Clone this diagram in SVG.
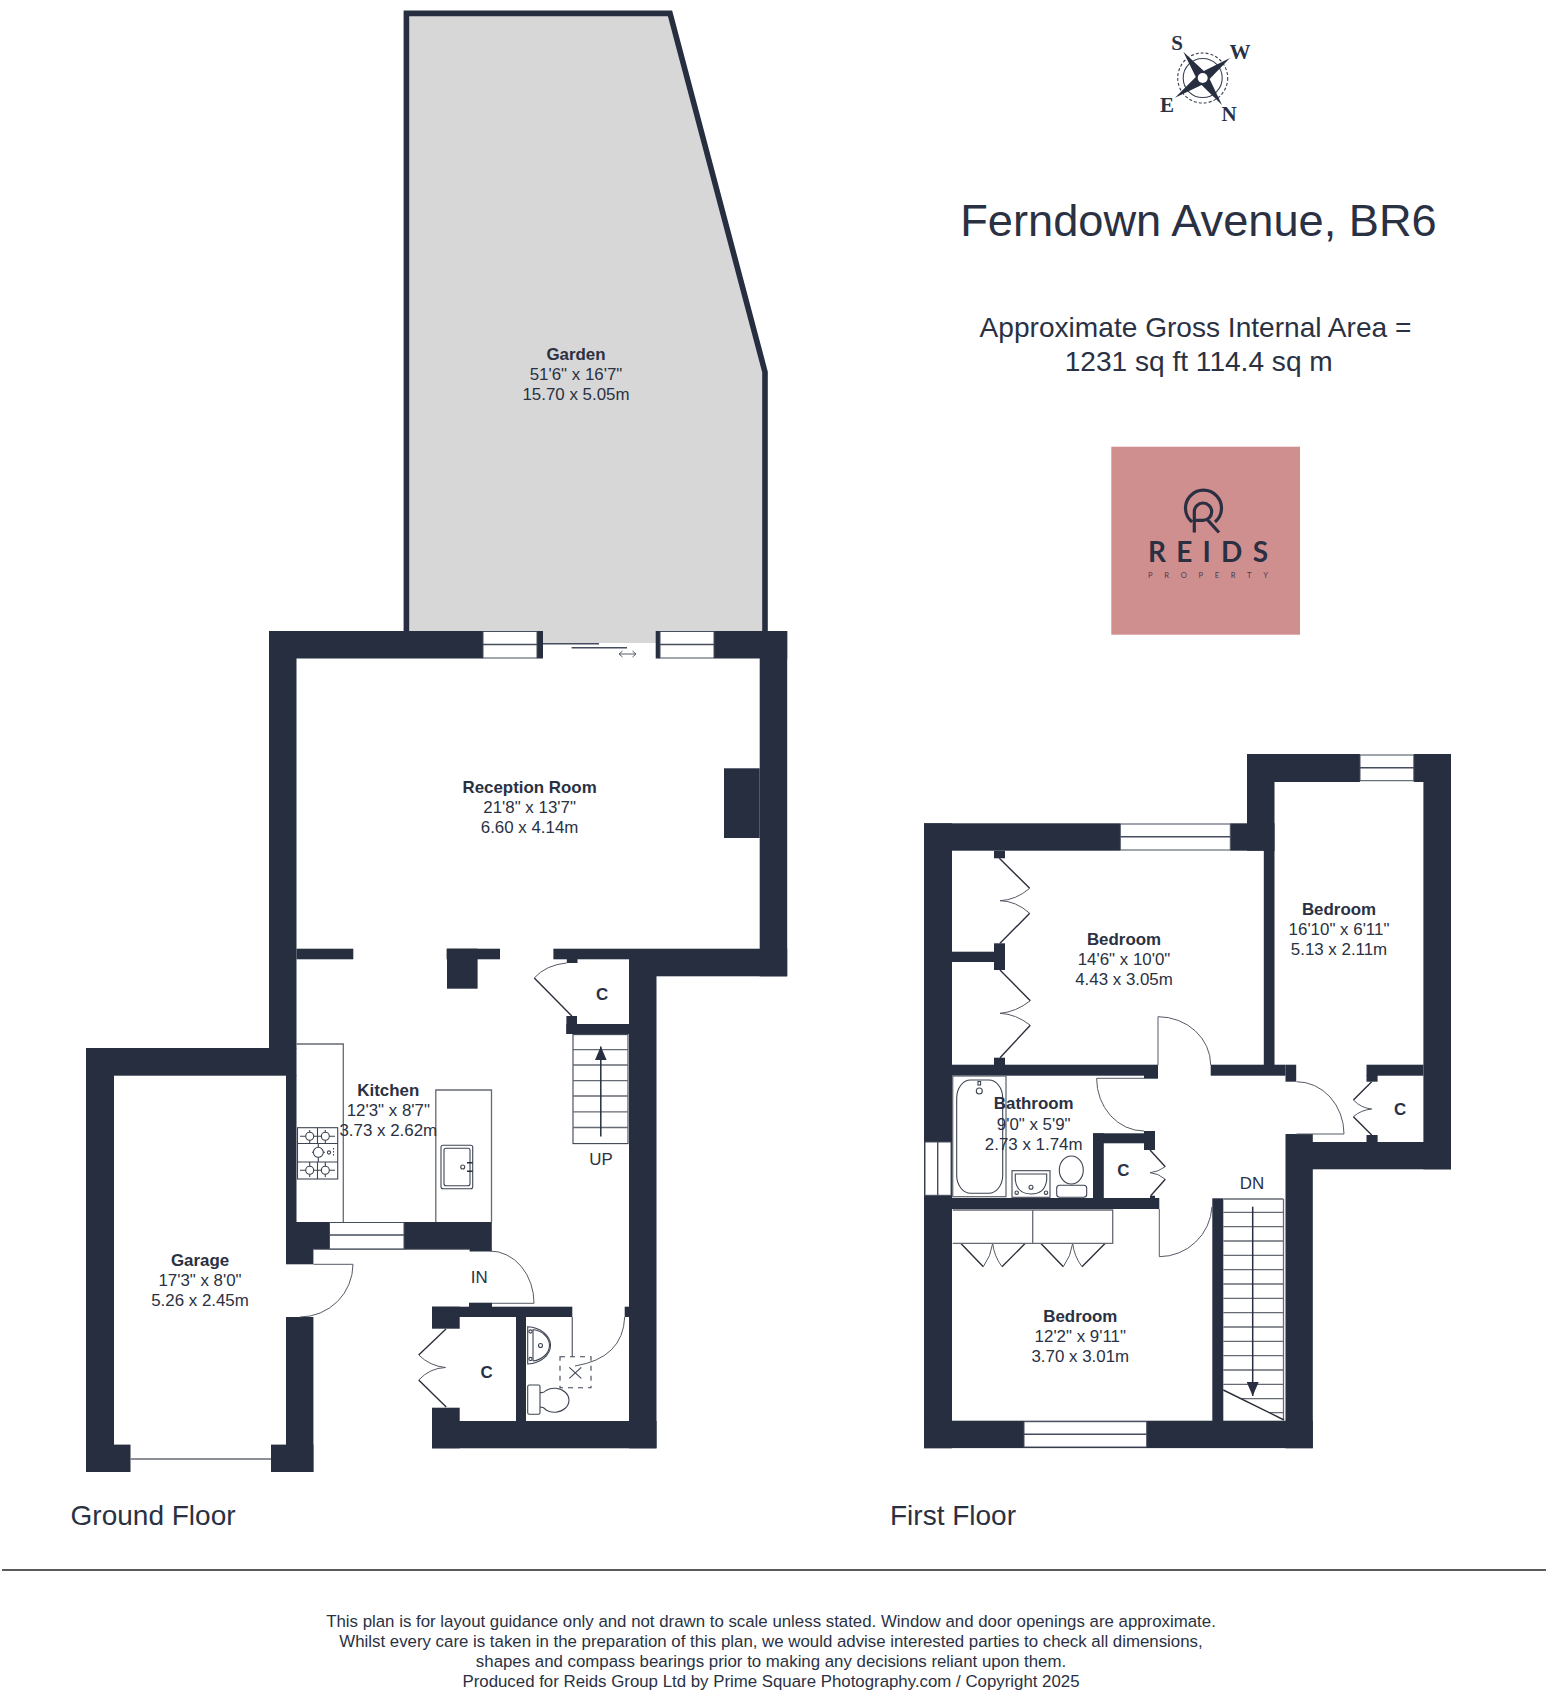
<svg xmlns="http://www.w3.org/2000/svg" width="1552" height="1704" viewBox="0 0 1552 1704">
<style>
text{font-family:"Liberation Sans",Arial,sans-serif;fill:#2a3143}
.c{text-anchor:middle}
.r{font-size:16.9px}
.b{font-size:16.9px;font-weight:bold}
.big{font-size:45.2px}
.sub{font-size:28.1px}
.fl{font-size:28px}
.d{font-size:16.83px}
.cp{font-family:"Liberation Serif",serif;font-weight:bold;font-size:21px;text-anchor:middle}
.wall rect{fill:#262e40}
.win{fill:#fff;stroke:#454c5c;stroke-width:1}
.mid{stroke:#454c5c;stroke-width:1.4;fill:none}
.th{fill:none;stroke:#555a66;stroke-width:1}
.lf{fill:none;stroke:#2a2f3b;stroke-width:1.4}
.ln{fill:none;stroke:#666a72;stroke-width:1.3}
.fx{fill:none;stroke:#3d4452;stroke-width:1.1}
.bn{fill:#fff;stroke:#3d4452;stroke-width:1.1}
</style>
<defs>
<marker id="ah" markerWidth="14" markerHeight="12" refX="14" refY="6" orient="auto" markerUnits="userSpaceOnUse" viewBox="0 0 14 12"><path d="M0,0 L14,6 L0,12 Z" fill="#262e40"/></marker>
</defs>
<rect width="1552" height="1704" fill="#fff"/>

<g id="garden">
<path d="M406.4,643 V13.4 H670 L765,372 V643 Z" fill="#d7d7d7"/>
<path d="M406.4,631 V13.4 H670 L765,372 V631" fill="none" stroke="#262e40" stroke-width="5.6"/>
</g>

<g id="ground-floor-walls" class="wall">
<rect x="269" y="631" width="214" height="27.5"/>
<rect x="537" y="631" width="6" height="27.5"/>
<rect x="655.7" y="631" width="4.3" height="27.5"/>
<rect x="714" y="631" width="73.2" height="27.5"/>
<rect x="269" y="631" width="27.5" height="417.5"/>
<rect x="759.7" y="631" width="27.5" height="345.3"/>
<rect x="724" y="768.3" width="35.7" height="69.7"/>
<rect x="553.4" y="948.7" width="233.8" height="10.6"/>
<rect x="629" y="959" width="158.2" height="17.3"/>
<rect x="629" y="959" width="27.5" height="489.3"/>
<rect x="296.5" y="948.7" width="56.8" height="10.6"/>
<rect x="446.6" y="948.7" width="53.4" height="10.6"/>
<rect x="447" y="948.7" width="30.6" height="40"/>
<rect x="566.8" y="959" width="10.7" height="4"/>
<rect x="566.4" y="1016" width="10.6" height="18"/>
<rect x="566.4" y="1024" width="62.6" height="10"/>
<rect x="86" y="1048" width="210.5" height="27.7"/>
<rect x="86" y="1048" width="28" height="424"/>
<rect x="286" y="1075" width="10.5" height="147"/>
<rect x="286" y="1222" width="43.5" height="27.2"/>
<rect x="404" y="1222" width="87.8" height="27.2"/>
<rect x="469.6" y="1249" width="22.2" height="2.5"/>
<rect x="286" y="1249" width="27.4" height="15.3"/>
<rect x="286" y="1317" width="27.4" height="155"/>
<rect x="86" y="1444.6" width="44.5" height="27.4"/>
<rect x="271" y="1444.6" width="42.4" height="27.4"/>
<rect x="469" y="1302.7" width="23" height="4.5"/>
<rect x="432" y="1306.7" width="140.3" height="10.3"/>
<rect x="432" y="1306.7" width="27.7" height="22"/>
<rect x="432" y="1407.7" width="27.7" height="40.6"/>
<rect x="432" y="1421" width="224.5" height="27.3"/>
<rect x="516" y="1317" width="10" height="104"/>
<rect x="624.7" y="1306.7" width="4.5" height="10.3"/>
</g>

<g id="ground-floor-windows">
<rect class="win" x="483" y="631.5" width="54" height="26.5"/><path class="mid" d="M483,644.5 H537"/>
<rect class="win" x="660" y="631.5" width="54" height="26.5"/><path class="mid" d="M660,644.5 H714"/>
<rect class="win" x="329.5" y="1222.5" width="74.5" height="26.5"/><path class="mid" d="M329.5,1235 H404"/>
<path class="ln" d="M130.5,1459 H271"/>
<path class="mid" d="M543,643.7 H599 M571.6,647.7 H627"/>
<path class="th" d="M619,654 H636 M622.5,651 L619,654 L622.5,657 M632.5,651 L636,654 L632.5,657"/>
</g>

<g id="ground-floor-doors">
<path class="th" d="M566.8,962.9 Q546,965 534.3,977.9"/>
<path class="lf" d="M534.3,977.9 L571.8,1016"/>
<path class="th" d="M313.4,1264.3 H353 M353,1264.3 A53,53 0 0 1 300,1317"/>
<path class="th" d="M313.4,1249.3 H469.6"/>
<path class="th" d="M490,1251 A44,52 0 0 1 534,1303.3 H492"/>
<path class="th" d="M624.7,1317 Q623,1358 575,1366"/>
<path class="lf" d="M446,1329 L418.7,1355 M418.7,1380 L446.2,1407"/>
<path class="th" d="M418.7,1355 Q430,1366 445.5,1367.5 Q430,1368 418.7,1380"/>
</g>

<g id="ground-floor-fittings">
<path class="ln" d="M296.5,1044 H343.3 V1222 M435.8,1222 V1090 H491.5 V1222"/>
<rect class="fx" x="297.5" y="1127.7" width="40.2" height="51.3"/>
<path class="fx" stroke-width="0.9" d="M297.5,1143.5 H337.7 M297.5,1162 H337.7 M317.5,1127.7 V1143.5 M317.5,1162 V1179 M318.3,1143.5 V1162 M300,1136.3 H335 M300,1170.3 H335 M309.7,1130 V1143.5 M325.3,1130 V1143.5 M309.7,1162 V1177 M325.3,1162 V1177 M312,1152.3 H325"/>
<circle class="bn" cx="309.7" cy="1136.3" r="4"/><circle class="bn" cx="325.3" cy="1136.3" r="4"/>
<circle class="bn" cx="318.3" cy="1152.3" r="5"/>
<circle class="bn" cx="309.7" cy="1170.3" r="4"/><circle class="bn" cx="325.3" cy="1170.3" r="4"/>
<path class="fx" d="M333.5,1148 V1157" stroke-dasharray="1.5 1.5"/>
<circle class="fx" cx="329" cy="1152.5" r="1.6"/>
<rect class="fx" x="441" y="1145.3" width="31.7" height="43.4" rx="2"/>
<rect class="fx" x="444" y="1148.3" width="26" height="37.4" rx="2"/>
<circle class="fx" cx="462.7" cy="1167" r="2"/>
<path class="lf" d="M467,1162.7 H472.7 M467,1171.3 H472.7"/>
<rect class="fx" x="573" y="1034.6" width="55" height="109"/>
<path class="ln" d="M573,1049.6 H628 M573,1065 H628 M573,1080.7 H628 M573,1096 H628 M573,1111.8 H628 M573,1127.5 H628"/>
<path d="M600.8,1136.4 V1046.4" fill="none" stroke="#262e40" stroke-width="1.5" marker-end="url(#ah)"/>
<path class="ln" d="M572.3,1317 V1356.7"/>
<rect class="fx" x="560" y="1356.7" width="31" height="31" stroke-dasharray="5 5"/>
<path class="fx" d="M569.3,1378.3 L581.3,1367.3 M569.3,1367.3 L581.3,1378.3"/>
<path class="fx" d="M527.7,1326.7 A24.6,18.7 0 0 1 527.7,1364 Z"/>
<path class="fx" d="M533,1329.5 V1361 M533,1329.5 A20,16 0 0 1 533,1361"/>
<circle class="fx" cx="540.5" cy="1345.5" r="2"/>
<circle class="fx" cx="530.5" cy="1331.5" r="1.6"/><circle class="fx" cx="530.5" cy="1359" r="1.6"/>
<rect class="fx" x="527.7" y="1385" width="12.3" height="29.3" rx="1.5"/>
<path class="fx" d="M540,1392.5 Q544,1393 546,1390.5 A14.5,12 0 1 1 546,1410 Q544,1407 540,1407"/>
</g>

<g id="first-floor-walls" class="wall">
<rect x="924" y="823.3" width="196.3" height="27.4"/>
<rect x="1230.3" y="823.3" width="44.2" height="27.4"/>
<rect x="924" y="823.3" width="28" height="625"/>
<rect x="1247" y="754" width="113" height="28"/>
<rect x="1413.8" y="754" width="37.2" height="28"/>
<rect x="1247" y="754" width="27.5" height="96.7"/>
<rect x="1263.8" y="850" width="10.7" height="215"/>
<rect x="1423.4" y="754" width="27.6" height="415.3"/>
<rect x="952" y="1064.7" width="206" height="11"/>
<rect x="1144" y="1075" width="14" height="3.7"/>
<rect x="1210.7" y="1064.7" width="74.8" height="11"/>
<rect x="1285.5" y="1064.7" width="10.7" height="17"/>
<rect x="1366.5" y="1064.7" width="56.9" height="11"/>
<rect x="1366.5" y="1075" width="11.1" height="6.7"/>
<rect x="1366.5" y="1135" width="11.1" height="7"/>
<rect x="1296" y="1142" width="155" height="27.3"/>
<rect x="1285.5" y="1134" width="27.3" height="314.3"/>
<rect x="1093" y="1133.3" width="62" height="10"/>
<rect x="1144" y="1131" width="11" height="19"/>
<rect x="1093" y="1133.3" width="10.8" height="65"/>
<rect x="1150" y="1195.7" width="5" height="3"/>
<rect x="924" y="1198" width="235.3" height="11"/>
<rect x="1212.3" y="1198.3" width="11" height="223"/>
<rect x="924" y="1420.7" width="388.8" height="27.4"/>
<rect x="994" y="850.7" width="11" height="7.6"/>
<rect x="994" y="943.3" width="11" height="26.7"/>
<rect x="952" y="951.7" width="42" height="10.3"/>
<rect x="994" y="1057.7" width="11" height="7.3"/>
</g>

<g id="first-floor-windows">
<rect class="win" x="1120.3" y="824" width="110" height="26"/><path class="mid" d="M1120.3,836.7 H1230.3"/>
<rect class="win" x="1360" y="755" width="53.8" height="25.7"/><path class="mid" d="M1360,767.7 H1413.8"/>
<rect class="win" x="925" y="1142" width="26" height="53.3"/><path class="mid" d="M937.7,1142 V1195.3"/>
<rect class="win" x="1024" y="1421.7" width="122.7" height="25.3"/><path class="mid" d="M1024,1434.3 H1146.7"/>
</g>

<g id="first-floor-doors">
<path class="lf" d="M999.3,858.3 L1029.7,888.3 M1029.7,913.3 L1000,943.3 M1000,970 L1030.3,1000.7 M1030.3,1025.3 L1000,1057.7"/>
<path class="th" d="M1029.7,888.3 Q1016,900 1000,900.7 Q1016,901 1029.7,913.3 M1030.3,1000.7 Q1016,1012 1000,1013.3 Q1016,1014 1030.3,1025.3"/>
<path class="th" d="M1158,1065 V1016.7 A52.7,48.3 0 0 1 1210.7,1065"/>
<path class="th" d="M1144,1078.3 H1096.6 A47.4,52.7 0 0 0 1144,1131"/>
<path class="th" d="M1296.5,1081.7 A47.5,52.3 0 0 1 1344,1134 H1296.5"/>
<path class="lf" d="M1371.7,1081.7 L1353.4,1100 M1353.4,1116.7 L1371.7,1135 M1150,1150 L1165.3,1166.7 M1165.3,1179.3 L1150.7,1195.7"/>
<path class="th" d="M1353.4,1100 Q1361,1108 1371.7,1109 Q1361,1110 1353.4,1116.7 M1165.3,1166.7 Q1158,1172 1150,1172.7 Q1158,1173 1165.3,1179.3"/>
<path class="th" d="M1159.3,1209 V1256.7 A53,53 0 0 0 1212,1206.7"/>
<path class="lf" d="M960.7,1243.3 L983.3,1266.7 M1002,1266.7 L1025.3,1243.3 M1040.7,1243.3 L1063.3,1266.7 M1082,1266.7 L1105.3,1243.3"/>
<path class="th" d="M983.3,1266.7 Q991,1256 992.7,1243.3 Q994,1256 1002,1266.7 M1063.3,1266.7 Q1071,1256 1072.7,1243.3 Q1074,1256 1082,1266.7"/>
</g>

<g id="first-floor-fittings">
<path class="ln" d="M952.7,1210 H1112.7 V1243.3 H952.7 M1032.7,1210 V1243.3"/>
<rect class="ln" x="952.7" y="1076" width="53.3" height="120.7"/>
<rect class="fx" x="956.7" y="1080" width="46" height="113.3" rx="14" ry="18"/>
<circle class="fx" cx="979.3" cy="1091" r="3"/>
<rect class="fx" x="978" y="1081.5" width="2.6" height="3.5"/>
<rect class="fx" x="1012" y="1170.7" width="38" height="26.6"/>
<path class="fx" d="M1015.3,1174 H1046.7 V1180 Q1045,1194 1031,1194 Q1017,1194 1015.3,1180 Z"/>
<circle class="fx" cx="1016.7" cy="1192.7" r="1.7"/><circle class="fx" cx="1046" cy="1192.7" r="1.7"/><circle class="fx" cx="1031" cy="1187.3" r="2"/>
<ellipse class="fx" cx="1071.3" cy="1170" rx="12" ry="14"/>
<rect x="1056.7" y="1185.3" width="30" height="12" rx="3" fill="#fff" stroke="#3d4452" stroke-width="1.1"/>
<path class="ln" d="M1223.3,1199 H1283.3 M1283.5,1199 V1420"/>
<path class="ln" d="M1223.3,1212.3 H1283.3 M1223.3,1226.7 H1283.3 M1223.3,1241 H1283.3 M1223.3,1255.3 H1283.3 M1223.3,1269.7 H1283.3 M1223.3,1284 H1283.3 M1223.3,1298.3 H1283.3 M1223.3,1312.7 H1283.3 M1223.3,1327 H1283.3 M1223.3,1341.3 H1283.3 M1223.3,1355.7 H1283.3 M1223.3,1370 H1283.3 M1223.3,1384.3 H1283.3 M1241,1398.7 H1283.3 M1270,1412.7 H1283.3"/>
<path class="lf" d="M1223.3,1390 L1284,1420"/>
<path d="M1252.7,1206.7 V1396" fill="none" stroke="#262e40" stroke-width="1.5" marker-end="url(#ah)"/>
</g>

<g id="labels">
<text class="b c" x="576" y="360.3">Garden</text>
<text class="r c" x="576" y="380.3">51'6" x 16'7"</text>
<text class="r c" x="576" y="400.3">15.70 x 5.05m</text>
<text class="b c" x="529.6" y="792.7">Reception Room</text>
<text class="r c" x="529.6" y="813">21'8" x 13'7"</text>
<text class="r c" x="529.6" y="833.3">6.60 x 4.14m</text>
<text class="b c" x="388.3" y="1096">Kitchen</text>
<text class="r c" x="388.3" y="1116">12'3" x 8'7"</text>
<text class="r c" x="388.3" y="1136">3.73 x 2.62m</text>
<text class="b c" x="200" y="1265.7">Garage</text>
<text class="r c" x="200" y="1285.7">17'3" x 8'0"</text>
<text class="r c" x="200" y="1305.7">5.26 x 2.45m</text>
<text class="b c" x="1124" y="944.7">Bedroom</text>
<text class="r c" x="1124" y="965">14'6" x 10'0"</text>
<text class="r c" x="1124" y="985">4.43 x 3.05m</text>
<text class="b c" x="1339" y="914.7">Bedroom</text>
<text class="r c" x="1339" y="934.7">16'10" x 6'11"</text>
<text class="r c" x="1339" y="954.7">5.13 x 2.11m</text>
<text class="b c" x="1033.7" y="1109.3">Bathroom</text>
<text class="r c" x="1033.7" y="1130">9'0" x 5'9"</text>
<text class="r c" x="1033.7" y="1150">2.73 x 1.74m</text>
<text class="b c" x="1080.3" y="1321.7">Bedroom</text>
<text class="r c" x="1080.3" y="1342.3">12'2" x 9'11"</text>
<text class="r c" x="1080.3" y="1362.3">3.70 x 3.01m</text>
<text class="b c" x="602" y="1000">C</text>
<text class="b c" x="486.7" y="1377.5">C</text>
<text class="b c" x="1400" y="1115">C</text>
<text class="b c" x="1123.3" y="1176">C</text>
<text class="r c" x="601" y="1164.5">UP</text>
<text class="r c" x="479.3" y="1282.5">IN</text>
<text class="r c" x="1252" y="1189">DN</text>
<text class="fl" x="70.6" y="1524.5">Ground Floor</text>
<text class="fl" x="890" y="1524.5">First Floor</text>
</g>

<g id="compass">
<circle cx="1202.7" cy="78" r="19.5" fill="none" stroke="#3a4152" stroke-width="1.1"/>
<circle cx="1202.7" cy="78" r="25" fill="none" stroke="#3a4152" stroke-width="1.1" stroke-dasharray="3 2"/>
<polygon points="1183.3,51.7 1203.8,71.1 1230,58 1209.6,79.1 1222,105 1201.6,84.9 1175,97.7 1195.8,76.9" fill="#262e40"/>
<circle cx="1202.7" cy="78" r="5" fill="#fff"/>
<text class="cp" x="1177" y="50">S</text>
<text class="cp" x="1240" y="59">W</text>
<text class="cp" x="1167" y="112">E</text>
<text class="cp" x="1229" y="121">N</text>
</g>

<g id="title">
<text class="big c" x="1198.5" y="236">Ferndown Avenue, BR6</text>
<text class="sub c" x="1195.5" y="336.7">Approximate Gross Internal Area =</text>
<text class="sub c" x="1198.7" y="370.7">1231 sq ft 114.4 sq m</text>
</g>

<g id="logo">
<rect x="1111.3" y="446.7" width="188.7" height="188" fill="#d08f8f"/>
<path d="M1192,522 A18,18 0 1 1 1215,522 M1194.3,532.5 V511.7 A8.7,8.7 0 1 1 1203,520.4 H1194.3 M1208,520.4 L1219,532.5" fill="none" stroke="#2b2f42" stroke-width="3.2"/>
<text x="1148" y="562" font-size="28" font-weight="700" textLength="120" lengthAdjust="spacing" style="font-family:Lato,sans-serif;fill:#2b2f42">REIDS</text>
<text x="1148" y="578.3" font-size="7.6" textLength="120" lengthAdjust="spacing" style="font-family:Lato,sans-serif;fill:#4a3c4c">PROPERTY</text>
</g>

<g id="disclaimer">
<path d="M2,1570 H1546" stroke="#5a5a5a" stroke-width="2" fill="none"/>
<text class="d c" x="771" y="1627.3">This plan is for layout guidance only and not drawn to scale unless stated. Window and door openings are approximate.</text>
<text class="d c" x="771" y="1647.3">Whilst every care is taken in the preparation of this plan, we would advise interested parties to check all dimensions,</text>
<text class="d c" x="771" y="1667.3">shapes and compass bearings prior to making any decisions reliant upon them.</text>
<text class="d c" x="771" y="1687.3">Produced for Reids Group Ltd by Prime Square Photography.com / Copyright 2025</text>
</g>
</svg>
